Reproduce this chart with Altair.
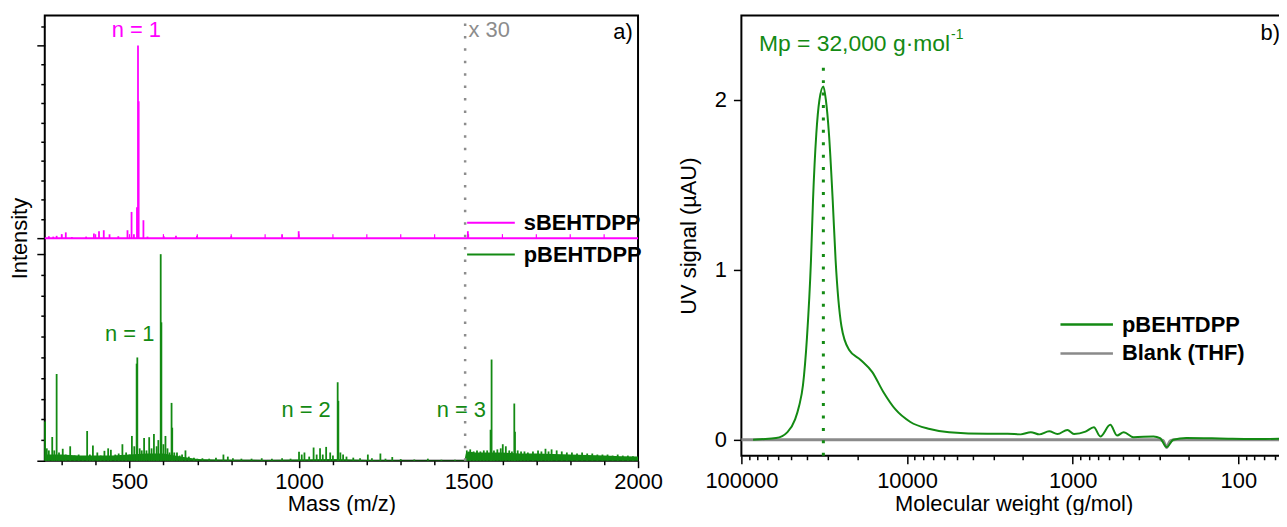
import altair as alt
import pandas as pd

# ---------------- colours / fonts ----------------
GREEN = "#138a13"
MAGENTA = "#ff00ff"
GREY = "#8c8c8c"
FONT = "Liberation Sans"

# ---------------- panel a) : MALDI spectra (normalised intensities) ----------------
s_mz = [262, 275, 285, 300, 312, 330, 372, 395, 410, 424, 441, 467, 494, 506, 513,
        522, 525, 527, 541, 553, 601, 637, 699, 800, 950, 999, 1498]
s_int = [0.010, 0.008, 0.012, 0.020, 0.030, 0.006, 0.008, 0.024, 0.036, 0.041, 0.020,
         0.010, 0.041, 0.136, 0.020, 0.160, 1.000, 0.710, 0.093, 0.008, 0.010, 0.012,
         0.012, 0.010, 0.020, 0.036, 0.036]

p_mz = [251, 256, 262, 272, 278, 285, 292, 303, 312, 325, 338, 350, 362, 375, 383, 392,
        405, 415, 426, 437, 445, 458, 468, 479, 490, 500, 507, 514, 521, 523, 530, 536,
        543, 550, 558, 565, 572, 580, 585, 592, 594, 600, 606, 612, 618, 624, 626, 632,
        640, 648, 655, 665, 675, 690, 700,
        715, 735, 755, 777, 790, 805, 830, 860, 890, 920, 950, 975, 1000, 1008, 1016,
        1030, 1043, 1052, 1062, 1070, 1080, 1092, 1100, 1114, 1116, 1122, 1130, 1140,
        1160, 1180, 1203, 1215, 1240, 1255, 1275, 1300, 1340, 1380, 1420, 1460,
        1495, 1505, 1515, 1525, 1535, 1545, 1555, 1565, 1568, 1575, 1585, 1595, 1601,
        1610, 1620, 1628, 1635, 1637, 1645, 1655, 1665, 1675, 1690, 1705, 1715, 1727,
        1736, 1745, 1760, 1775, 1790, 1805, 1820, 1835, 1850, 1865, 1880, 1895, 1910,
        1925, 1940, 1955, 1970, 1985]
p_int = [0.19, 0.06, 0.05, 0.115, 0.05, 0.42, 0.04, 0.058, 0.03, 0.07, 0.025, 0.03, 0.02,
         0.144, 0.03, 0.074, 0.04, 0.025, 0.048, 0.06, 0.053, 0.03, 0.035, 0.08, 0.04,
         0.03, 0.12, 0.07, 0.47, 0.50, 0.06, 0.05, 0.11, 0.05, 0.114, 0.06, 0.13, 0.07,
         0.10, 1.00, 0.67, 0.08, 0.12, 0.06, 0.04, 0.28, 0.16, 0.04, 0.04, 0.025, 0.03,
         0.05, 0.02, 0.015, 0.01,
         0.012, 0.01, 0.015, 0.03, 0.02, 0.012, 0.01, 0.01, 0.012, 0.01, 0.012, 0.01,
         0.043, 0.03, 0.04, 0.02, 0.064, 0.03, 0.06, 0.03, 0.067, 0.04, 0.025, 0.38,
         0.29, 0.04, 0.03, 0.02, 0.015, 0.012, 0.03, 0.012, 0.035, 0.01, 0.018, 0.008,
         0.006, 0.01, 0.005, 0.005,
         0.05, 0.055, 0.045, 0.05, 0.045, 0.05, 0.05, 0.15, 0.49, 0.05, 0.055, 0.06,
         0.08, 0.07, 0.05, 0.045, 0.277, 0.14, 0.05, 0.045, 0.045, 0.04, 0.045, 0.05,
         0.045, 0.058, 0.045, 0.055, 0.05, 0.045, 0.04, 0.04, 0.035, 0.04, 0.035,
         0.035, 0.03, 0.03, 0.03, 0.025, 0.03, 0.025, 0.025, 0.022]

grass_mz = [250, 300, 350, 400, 450, 500, 550, 600, 650, 700, 750, 800, 900, 1000, 1100,
            1200, 1300, 1400, 1488, 1492, 1500, 1520, 1550, 1600, 1650, 1700, 1750, 1800,
            1850, 1900, 1950, 2000]
grass_int = [0.03, 0.03, 0.025, 0.025, 0.025, 0.03, 0.035, 0.035, 0.02, 0.008, 0.006,
             0.005, 0.004, 0.006, 0.008, 0.004, 0.003, 0.002, 0.002, 0.035, 0.045, 0.04,
             0.04, 0.04, 0.035, 0.035, 0.033, 0.03, 0.028, 0.025, 0.022, 0.02]

top_axis_ticks = list(range(300, 2000, 100))
lx_ticks = list(range(300, 2001, 100))
lx_major = [500, 1000, 1500, 2000]

# vertical layout of the stacked spectra (axis units, domain 0..2)
TOP_BASE = 1.0
TOP_SCALE = 0.866
BOT_SCALE = 0.928
ly_ticks = [round(k * BOT_SCALE / 10, 4) for k in range(11)] + \
           [round(TOP_BASE + k * TOP_SCALE / 10, 4) for k in range(12)]
ly_major = [0, BOT_SCALE, TOP_BASE, round(TOP_BASE + TOP_SCALE, 4)]

# ---------------- panel b) : GPC trace ----------------
gpc_mw = [85000, 76900, 61700, 52700, 47400, 44800, 42500, 40200, 38000, 36950, 35300,
          33800, 32000, 30900, 29600, 28100, 27000, 24900, 22400, 19050, 16250, 13870,
          11780, 9550, 7290, 5570, 3270, 2470, 2060, 1790, 1590, 1387, 1236, 1077, 982,
          837, 745, 681, 593, 540, 492, 429, 325, 297, 271, 247, 206, 130, 81.7, 51.6]
gpc_uv = [0.0, 0.003, 0.01, 0.045, 0.12, 0.2, 0.32, 0.6, 1.06, 1.41, 1.80,
          2.0, 2.08, 2.0, 1.80, 1.41, 1.06, 0.67, 0.53, 0.47, 0.40, 0.28,
          0.18, 0.105, 0.064, 0.045, 0.035, 0.035, 0.032, 0.045, 0.032, 0.05, 0.034,
          0.058, 0.034, 0.048, 0.074, 0.02, 0.088, 0.025, 0.045, 0.015, 0.02, 0.01,
          -0.043, 0.0, 0.01, 0.008, 0.005, 0.006]
blank_mw = [100000, 400, 300, 285, 271, 258, 240, 51.6]
blank_uv = [0.0, 0.0, 0.0, -0.004, -0.045, -0.006, 0.0, 0.0]

rx_major = [100000, 10000, 1000, 100]
rx_ticks = [100000, 90000, 80000, 70000, 60000, 50000, 40000, 30000, 20000,
            10000, 9000, 8000, 7000, 6000, 5000, 4000, 3000, 2000,
            1000, 900, 800, 700, 600, 500, 400, 300, 200,
            100, 90, 80, 70, 60]
ry_ticks = [0, 1, 2]
MP = 32000

# ---------------- dataframes ----------------
sticks = pd.concat([
    pd.DataFrame({"mz": s_mz, "y0": TOP_BASE,
                  "y1": [TOP_BASE + v * TOP_SCALE for v in s_int], "sample": "sBEHTDPP"}),
    pd.DataFrame({"mz": p_mz, "y0": 0.0,
                  "y1": [v * BOT_SCALE for v in p_int], "sample": "pBEHTDPP"}),
])
grass = pd.DataFrame({"mz": grass_mz, "y1": [v * BOT_SCALE for v in grass_int]})
top_ticks_df = pd.DataFrame({"mz": top_axis_ticks, "y0": TOP_BASE, "y1": TOP_BASE + 0.018})
base_df = pd.DataFrame({"mz": [250], "mz2": [2000], "y0": [TOP_BASE]})
dot_df = pd.DataFrame({"mz": [1490], "y0": [0.0], "y1": [1.964]})

# ---------------- left chart encodings ----------------
lx_scale = alt.Scale(domain=[250, 2000], nice=False, zero=False)
ly_scale = alt.Scale(domain=[0, 2], nice=False, zero=False)
lx_axis = alt.Axis(
    values=lx_ticks, format="d", title="Mass (m/z)", labelFlush=False, labelOverlap=False,
    labelExpr="indexof([500,1000,1500,2000], datum.value) >= 0 ? datum.label : ''",
    tickSize={"condition": {"test": "indexof([500,1000,1500,2000], datum.value) >= 0",
                            "value": 7}, "value": 4},
    labelPadding=4, titlePadding=1)
ly_axis = alt.Axis(
    values=ly_ticks, labels=False, title="Intensity", titlePadding=5,
    tickSize={"condition": {"test": "indexof(" + str(ly_major) + ", datum.value) >= 0",
                            "value": 8}, "value": 4})


def LX(f):
    return alt.X(f, type="quantitative", scale=lx_scale, axis=lx_axis)


def LY(f):
    return alt.Y(f, type="quantitative", scale=ly_scale, axis=ly_axis)


def ltext(df, color, align, size=22, weight="normal"):
    return alt.Chart(df).mark_text(font=FONT, fontSize=size, color=color, align=align,
                                   baseline="alphabetic", fontWeight=weight).encode(
        x=LX("mz"), y=LY("yv"), text="txt:N")


left_grass = alt.Chart(grass).mark_area(color=GREEN, opacity=1).encode(
    x=LX("mz"), y=LY("y1"))
left_base = alt.Chart(base_df).mark_rule(color=MAGENTA, strokeWidth=2).encode(
    x=LX("mz"), x2="mz2", y=LY("y0"))
left_tt = alt.Chart(top_ticks_df).mark_rule(color=MAGENTA, strokeWidth=1.2).encode(
    x=LX("mz"), y=LY("y0"), y2="y1")
left_sticks = alt.Chart(sticks).mark_rule(strokeWidth=1.8).encode(
    x=LX("mz"), y=LY("y0"), y2="y1",
    color=alt.Color("sample:N",
                    scale=alt.Scale(domain=["sBEHTDPP", "pBEHTDPP"], range=[MAGENTA, GREEN]),
                    legend=alt.Legend(orient="none", legendX=438, legendY=197.5, title=None,
                                      padding=0, symbolType="M-3,0H3", symbolSize=256,
                                      symbolStrokeWidth=2, labelFont=FONT, labelFontSize=22,
                                      labelFontWeight="bold", labelColor="black",
                                      labelOffset=22, rowPadding=10)))
left_dot = alt.Chart(dot_df).mark_rule(color=GREY, strokeWidth=2.5, strokeDash=[2.5, 10]).encode(
    x=LX("mz"), y=LY("y0"), y2="y1")

left = alt.layer(
    left_grass, left_base, left_tt, left_sticks, left_dot,
    ltext(pd.DataFrame({"mz": [520], "yv": [1.902], "txt": ["n = 1"]}), MAGENTA, "center"),
    ltext(pd.DataFrame({"mz": [1500], "yv": [1.902], "txt": ["x 30"]}), "#8c8c8c", "left"),
    ltext(pd.DataFrame({"mz": [1984.5], "yv": [1.895], "txt": ["a)"]}), "black", "right"),
    ltext(pd.DataFrame({"mz": [500.5, 1020.6, 1479], "yv": [0.536, 0.196, 0.196],
                        "txt": ["n = 1", "n = 2", "n = 3"]}), GREEN, "center"),
).properties(width=597, height=448)

# ---------------- right chart ----------------
gpc = pd.DataFrame({"mw": gpc_mw, "uv": gpc_uv, "trace": "pBEHTDPP"})
blank = pd.DataFrame({"mw": blank_mw, "uv": blank_uv, "trace": "Blank (THF)"})
mp_df = pd.DataFrame({"mw": [MP], "y0": [-0.094], "y1": [2.2]})

rx_scale = alt.Scale(type="log", domain=[51.6, 100000], reverse=True, nice=False)
ry_scale = alt.Scale(domain=[-0.094, 2.497], nice=False, zero=False)
rx_axis = alt.Axis(
    values=rx_ticks, title="Molecular weight (g/mol)", labelFlush=False, labelOverlap=False,
    labelExpr="indexof([100000,10000,1000,100], datum.value) >= 0 ? format(datum.value, 'd') : ''",
    tickSize={"condition": {"test": "indexof([100000,10000,1000,100], datum.value) >= 0",
                            "value": 8}, "value": 4},
    labelPadding=7, titlePadding=2)
ry_axis = alt.Axis(values=ry_ticks, title="UV signal (µAU)", tickSize=8, labelPadding=7,
                   titlePadding=14, labelFlush=False)


def RX(f):
    return alt.X(f, type="quantitative", scale=rx_scale, axis=rx_axis)


def RY(f):
    return alt.Y(f, type="quantitative", scale=ry_scale, axis=ry_axis)


rcolor = alt.Color("trace:N",
                   scale=alt.Scale(domain=["pBEHTDPP", "Blank (THF)"], range=[GREEN, "#8a8a8a"]),
                   legend=alt.Legend(orient="none", legendX=336.5, legendY=300, title=None,
                                     padding=0, symbolType="M-3.3,0H3.3", symbolSize=256,
                                     symbolStrokeWidth=2.5, labelFont=FONT, labelFontSize=22,
                                     labelFontWeight="bold", labelColor="black",
                                     labelOffset=24.5, rowPadding=7))

r_blank = alt.Chart(blank).mark_line(strokeWidth=3, interpolate="monotone").encode(
    x=RX("mw"), y=RY("uv"), color=rcolor)
r_gpc = alt.Chart(gpc).mark_line(strokeWidth=2, interpolate="monotone").encode(
    x=RX("mw"), y=RY("uv"), color=rcolor)
r_mp = alt.Chart(mp_df).mark_rule(color=GREEN, strokeWidth=3, strokeDash=[3, 9.5]).encode(
    x=RX("mw"), y=RY("y0"), y2="y1")


def rtext(df, color, align, size=22, dx=0):
    return alt.Chart(df).mark_text(font=FONT, fontSize=size, color=color, align=align,
                                   baseline="alphabetic", dx=dx).encode(
        x=RX("mw"), y=RY("yv"), text="txt:N")


right = alt.layer(
    r_blank, r_gpc, r_mp,
    rtext(pd.DataFrame({"mw": [5500], "yv": [2.287], "txt": ["Mp = 32,000 g·mol"]}), GREEN, "right", 23),
    rtext(pd.DataFrame({"mw": [5500], "yv": [2.357], "txt": ["-1"]}), GREEN, "left", 14, 1),
    rtext(pd.DataFrame({"mw": [56.1], "yv": [2.355], "txt": ["b)"]}), "black", "right"),
).properties(width=548, height=443)

# The reference is a crop of a wider figure: fixed-size canvas that clips the overflow.
chart = alt.hconcat(left, right, spacing=12).resolve_scale(color="independent").properties(
    autosize=alt.AutoSizeParams(type="none")
).configure(
    font=FONT, padding={"left": 37, "top": 6, "right": 1242, "bottom": 501}
).configure_view(stroke="black", strokeWidth=2).configure_axis(
    labelFont=FONT, labelFontSize=22, labelColor="black", titleFont=FONT, titleFontSize=22,
    titleFontWeight="normal", titleColor="black", domain=False, grid=False,
    tickColor="black", tickWidth=1.5)

chart.save("out.html", embed_options={"renderer": "svg", "actions": False})
